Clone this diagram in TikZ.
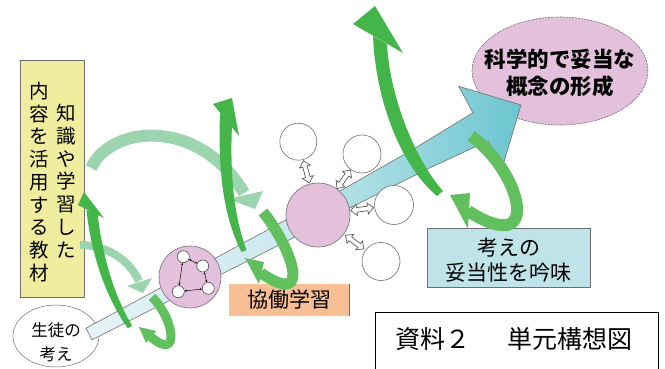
\documentclass[tikz,border=0pt]{standalone}
\usepackage{fontspec}
\newfontfamily\jp{Noto Sans CJK JP}
\usetikzlibrary{shapes.geometric,arrows.meta}
\definecolor{gdark}{HTML}{43B549}
\definecolor{gmed}{HTML}{62BF5D}
\definecolor{gpale}{HTML}{9BD4AE}
\definecolor{pinkc}{HTML}{E3C1DC}
\definecolor{yboxc}{HTML}{F1ED9E}
\definecolor{bboxc}{HTML}{BEE4EA}
\definecolor{oboxc}{HTML}{F9BF94}
\definecolor{barl}{HTML}{E6F4F8}
\definecolor{barr}{HTML}{C6E7EE}
\definecolor{teall}{HTML}{C0E5EB}
\definecolor{tealr}{HTML}{6BC5D0}
\definecolor{edge}{HTML}{6E6E6E}
\begin{document}
\begin{tikzpicture}[x=1pt,y=-1pt,
  outl/.style={draw=edge, line width=0.6pt},
  vtext/.style={font=\jp\fontsize{19.5}{22.75}\selectfont, align=center, inner sep=0pt},
  wc/.style={circle, draw=edge, line width=0.6pt, fill=white, inner sep=0pt},
  tc/.style={circle, draw=black!80, line width=0.5pt, fill=white, inner sep=0pt, minimum size=12pt},
  tinyarr/.style={line width=0.45pt, <->, >={Stealth[length=2.4pt,width=2pt]}},
  dblarrow/.style={draw=black!65, line width=0.7pt, fill=white, line join=miter},
  pinkcirc/.style={circle, outl, fill=pinkc, inner sep=0pt}
]
\useasboundingbox (0,0) rectangle (665,369);

% yellow box with vertical text
\node[outl, fill=yboxc, minimum width=64pt, minimum height=237pt, inner sep=0pt] (yb) at (52,178.5) {};
\node[vtext] (vr) at (66,181) {知\\識\\や\\学\\習\\し\\た};
\node[vtext] (vl) at (39,182) {内\\容\\を\\活\\用\\す\\る\\教\\材};

% student ellipse
\node[ellipse, draw=edge, line width=0.5pt, fill=white, minimum width=86pt, minimum height=62pt, inner sep=0pt] (stu) at (56,336) {};
\node[font=\jp\fontsize{16.5}{23.5}\selectfont, align=center, inner sep=0pt] (stut) at (56,342) {生徒の\\考え};

% pale green arrows
\draw[gpale, line width=12pt] (91,168) .. controls (112,124) and (200,118) .. (244,193);
\fill[gpale] (228,199) -- (263,191) -- (255,209) -- cycle;
\draw[gpale, line width=8pt] (80,245) .. controls (105,245) and (128,258) .. (139,281);
\fill[gpale] (127,286) -- (152,278) -- (143,293) -- cycle;

% light bar
\shadedraw[left color=barl, right color=barr, draw=edge, line width=0.6pt]
  (86,328.2) -- (313.4,205.1) -- (322.6,222.9) -- (92,339.8) -- cycle;

% small circle with network
\node[pinkcirc, minimum size=62pt] (sc) at (190,277) {};
\node[tc] (t1) at (183.3,256.7) {};
\node[tc] (t2) at (202.7,266) {};
\node[tc] (t3) at (208.3,288.3) {};
\node[tc] (t4) at (178.3,291.7) {};
\draw[tinyarr] (t1) -- (t2);
\draw[tinyarr] (t2) -- (t3);
\draw[tinyarr] (t3) -- (t4);
\draw[tinyarr] (t4) -- (t1);

% left dark green arrow
\fill[gdark] (86.5,210) .. controls (91.5,259) and (108.5,301.5) .. (127.9,328.4)
  -- (132.1,325.6) .. controls (115.5,298.5) and (102.5,258) .. (97.5,213) -- cycle;
\fill[gdark] (78,205) -- (84,192) -- (104,218) -- cycle;

% left loop
\draw[gmed, line width=9pt] (152,297) .. controls (175,320) and (180,362) .. (151,337);
\fill[gmed] (139,327) -- (156,331) -- (146,343) -- cycle;

% goal ellipse
\node[ellipse, draw=edge, dash pattern=on 2pt off 1pt, line width=0.6pt, fill=pinkc,
  minimum width=176pt, minimum height=108pt, inner sep=0pt] (goal) at (560,71) {};
\node[font=\jp\bfseries\fontsize{21.5}{27}\selectfont, align=center, inner sep=0pt] (goalt) at (560,72.5) {科学的で妥当な\\概念の形成};

% teal arrow
\shadedraw[left color=teall, right color=tealr, draw=edge, line width=0.6pt]
  (313.7,206.1) -- (414.3,148.6) -- (472.9,112.7) -- (458.7,86.3) -- (521,105)
  -- (502.3,167.3) -- (488.1,140.9) -- (425.7,169.8) -- (322.3,221.9) -- cycle;

% boxes
\node[fill=oboxc, minimum width=120pt, minimum height=32pt, inner sep=0pt,
  font=\jp\fontsize{21}{25}\selectfont] (coop) at (289,300) {協働学習};
\draw[edge, line width=0.8pt] (coop.north east) -- (coop.south east);
\node[outl, fill=bboxc, minimum width=163pt, minimum height=59pt, inner sep=0pt] (chk) at (508.5,257.5) {};
\node[font=\jp\fontsize{21}{25}\selectfont, align=center, inner sep=0pt] (chkt) at (508.5,260) {考えの\\妥当性を吟味};

% big circle and surrounding circles
\node[pinkcirc, minimum size=64pt] (bc) at (318,215) {};
\node[wc, minimum size=37pt] (w1) at (298.3,141.7) {};
\node[wc, minimum size=38pt] (w2) at (362,154) {};
\node[wc, minimum size=39pt] (w3) at (394,205) {};
\node[wc, minimum size=38pt] (w4) at (381,261.5) {};
\path (bc) -- (w1) coordinate[midway] (m1);
\path (bc) -- (w2) coordinate[midway] (m2);
\path (bc) -- (w3) coordinate[midway] (m3);
\path (bc) -- (w4) coordinate[midway] (m4);
\foreach \m/\a in {m1/105, m2/54.2, m3/7.5, m4/-36.4}{
  \draw[dblarrow, shift={(\m)}, rotate=\a]
    (-11.5,0) -- (-5.5,5.5) -- (-5.5,2.3) -- (5.5,2.3) -- (5.5,5.5) -- (11.5,0) -- (5.5,-5.5)
    -- (5.5,-2.3) -- (-5.5,-2.3) -- (-5.5,-5.5) -- cycle;
}

% middle dark green arrow
\fill[gdark] (220,113) .. controls (218,170) and (223,216) .. (241.5,252)
  -- (246.5,250) .. controls (233,214) and (230,170) .. (232,126) -- cycle;
\fill[gdark] (213,104) -- (232,98) -- (239,136) -- cycle;

% middle loop
\draw[gmed, line width=11pt] (263,212) .. controls (290,245) and (315,310) .. (261,273);
\fill[gmed] (245,258) -- (264,262) -- (259,284) -- cycle;

% right dark green arrow
\fill[gdark] (373,36) .. controls (376,105) and (403,168) .. (437,196)
  -- (443,191) .. controls (417,162) and (390,100) .. (387,44) -- cycle;
\fill[gdark] (353,24) -- (375,6) -- (403,53) -- cycle;

% right loop
\draw[gmed, line width=12pt] (471,136) .. controls (520,170) and (545,260) .. (468,211);
\fill[gmed] (450,195) -- (470,193) -- (468,229) -- cycle;

% caption
\node[draw=black, line width=0.8pt, minimum width=283pt, minimum height=70pt, anchor=north west, inner sep=0pt] (cap) at (375,312) {};
\node[font=\jp\fontsize{25}{30}\selectfont, inner sep=0pt] (capt) at (514,339) {資料２　\hspace{12pt}単元構想図};
\end{tikzpicture}
\end{document}
